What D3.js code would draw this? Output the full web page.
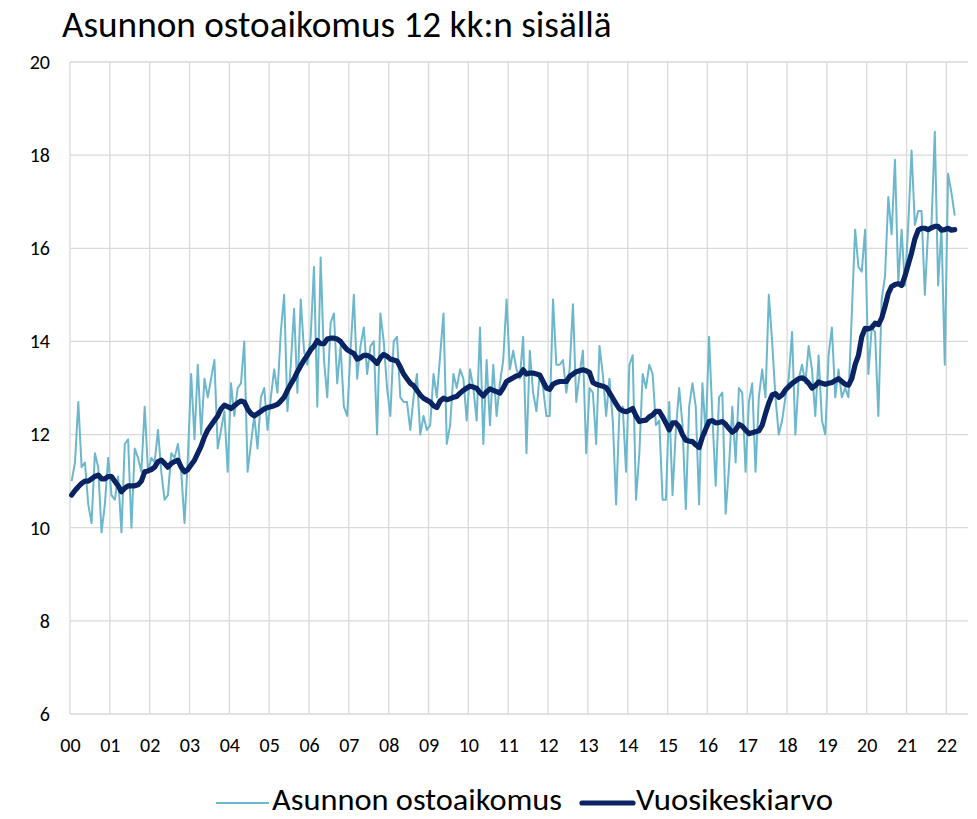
<!DOCTYPE html>
<html>
<head>
<meta charset="utf-8">
<script src="https://cdn.jsdelivr.net/npm/d3@7"></script>
<style>
  html, body { margin: 0; padding: 0; background: #ffffff; }
  svg { display: block; }
  text { font-family: "Carlito", "Lato", "Open Sans", sans-serif; fill: #000; }
</style>
</head>
<body>
<svg id="chart" width="977" height="819"></svg>
<script>
// ---- Data (monthly, Jan 2000 – Mar 2022) ----
const yearLabels = ["00","01","02","03","04","05","06","07","08","09","10","11","12","13","14","15","16","17","18","19","20","21","22"];
const yTicks = [6, 8, 10, 12, 14, 16, 18, 20];

const ostoaikomus = [
  // 2000
  11.0, 11.4, 12.7, 11.3, 11.4, 10.5, 10.1, 11.6, 11.3, 9.9, 10.5, 11.5,
  // 2001
  10.7, 10.6, 11.1, 9.9, 11.8, 11.9, 10.0, 11.7, 11.5, 11.2, 12.6, 11.2,
  // 2002
  11.5, 11.4, 12.1, 11.2, 10.6, 10.7, 11.6, 11.5, 11.8, 11.2, 10.1, 11.5,
  // 2003
  13.3, 11.9, 13.5, 12.0, 13.2, 12.8, 13.2, 13.6, 11.7, 12.1, 12.5, 11.2,
  // 2004
  13.1, 12.4, 13.0, 13.1, 14.0, 11.2, 11.8, 12.4, 11.7, 12.8, 13.0, 12.1,
  // 2005
  12.8, 13.4, 12.9, 14.2, 15.0, 12.5, 13.5, 14.7, 12.9, 14.9, 13.8, 13.5,
  // 2006
  14.1, 15.6, 12.6, 15.8, 13.6, 12.8, 14.4, 14.6, 13.1, 13.9, 12.6, 12.4,
  // 2007
  13.8, 15.0, 13.2, 13.9, 14.3, 13.3, 13.9, 14.0, 12.0, 14.6, 14.0, 13.0,
  // 2008
  12.4, 14.0, 14.1, 12.8, 12.7, 12.7, 12.1, 12.8, 13.3, 12.0, 12.4, 12.1,
  // 2009
  12.2, 13.3, 12.8, 13.7, 14.6, 11.8, 12.2, 13.3, 13.0, 13.4, 13.2, 12.3,
  // 2010
  13.4, 13.0, 12.3, 14.3, 11.8, 13.6, 12.2, 13.5, 12.4, 13.1, 13.6, 14.9,
  // 2011
  13.4, 13.8, 13.4, 13.2, 14.1, 11.6, 13.8, 12.9, 12.5, 13.3, 13.0, 12.4,
  // 2012
  12.4, 14.9, 13.5, 13.5, 13.6, 12.9, 13.4, 14.8, 12.7, 13.3, 13.8, 11.6,
  // 2013
  13.0, 12.9, 11.8, 13.9, 13.3, 12.4, 13.2, 12.3, 10.5, 12.5, 12.6, 11.2,
  // 2014
  13.5, 13.7, 10.6, 11.6, 13.3, 13.0, 13.5, 13.3, 12.2, 12.3, 10.6, 10.6,
  // 2015
  12.7, 10.7, 12.1, 13.0, 12.2, 10.4, 12.6, 13.1, 12.6, 10.5, 13.1, 12.0,
  // 2016
  14.1, 12.4, 10.9, 12.8, 12.9, 10.3, 11.3, 12.6, 11.4, 13.0, 12.9, 11.2,
  // 2017
  12.7, 13.1, 11.2, 12.8, 13.4, 12.8, 15.0, 14.0, 12.8, 12.0, 12.3, 12.8,
  // 2018
  13.2, 14.2, 12.0, 13.2, 13.5, 13.1, 13.9, 13.4, 12.4, 13.7, 12.3, 12.0,
  // 2019
  13.7, 14.3, 12.8, 13.4, 12.8, 13.0, 12.8, 14.6, 16.4, 15.6, 15.5, 16.4,
  // 2020
  13.3, 14.3, 14.2, 12.4, 14.9, 15.4, 17.1, 16.3, 17.9, 15.25, 16.4, 15.2,
  // 2021
  16.5, 18.1, 16.5, 16.8, 16.8, 15.0, 16.4, 16.5, 18.5, 15.2, 16.45, 13.5,
  // 2022
  17.6, 17.2, 16.7
];

const vuosikeskiarvo = [
  // 2000
  10.70, 10.80, 10.88, 10.95, 11.00, 11.00, 11.05, 11.10, 11.13, 11.05, 11.05, 11.10,
  // 2001
  11.10, 11.00, 10.90, 10.77, 10.85, 10.90, 10.90, 10.90, 10.92, 11.00, 11.20, 11.22,
  // 2002
  11.25, 11.30, 11.42, 11.45, 11.38, 11.30, 11.38, 11.42, 11.45, 11.30, 11.20, 11.25,
  // 2003
  11.35, 11.45, 11.60, 11.75, 11.95, 12.10, 12.20, 12.30, 12.40, 12.55, 12.63, 12.60,
  // 2004
  12.56, 12.62, 12.68, 12.72, 12.70, 12.55, 12.45, 12.40, 12.45, 12.50, 12.55, 12.58,
  // 2005
  12.60, 12.62, 12.65, 12.72, 12.80, 12.95, 13.08, 13.20, 13.35, 13.48, 13.60, 13.70,
  // 2006
  13.82, 13.90, 14.02, 13.95, 13.95, 14.05, 14.07, 14.07, 14.05, 14.00, 13.90, 13.82,
  // 2007
  13.78, 13.74, 13.62, 13.65, 13.70, 13.70, 13.67, 13.60, 13.53, 13.65, 13.72, 13.68,
  // 2008
  13.62, 13.60, 13.58, 13.45, 13.30, 13.20, 13.10, 13.05, 12.95, 12.85, 12.78, 12.74,
  // 2009
  12.70, 12.62, 12.58, 12.72, 12.78, 12.75, 12.77, 12.80, 12.82, 12.89, 12.95, 13.00,
  // 2010
  13.04, 13.02, 12.99, 12.90, 12.83, 12.92, 12.98, 12.95, 12.92, 12.89, 13.00, 13.14,
  // 2011
  13.18, 13.22, 13.26, 13.28, 13.39, 13.30, 13.32, 13.32, 13.30, 13.28, 13.14, 13.00,
  // 2012
  12.97, 13.08, 13.12, 13.14, 13.14, 13.14, 13.25, 13.30, 13.35, 13.37, 13.39, 13.37,
  // 2013
  13.33, 13.12, 13.08, 13.06, 13.04, 13.01, 12.90, 12.78, 12.66, 12.55, 12.51, 12.49,
  // 2014
  12.52, 12.56, 12.40, 12.28, 12.30, 12.31, 12.38, 12.42, 12.50, 12.50, 12.38, 12.25,
  // 2015
  12.10, 12.25, 12.25, 12.17, 12.00, 11.88, 11.86, 11.85, 11.78, 11.72, 11.95, 12.12,
  // 2016
  12.28, 12.30, 12.25, 12.26, 12.28, 12.22, 12.13, 12.05, 12.10, 12.22, 12.18, 12.10,
  // 2017
  12.02, 12.04, 12.06, 12.08, 12.20, 12.45, 12.68, 12.85, 12.88, 12.80, 12.85, 12.96,
  // 2018
  13.03, 13.10, 13.15, 13.20, 13.22, 13.18, 13.10, 13.00, 13.05, 13.13, 13.10, 13.08,
  // 2019
  13.10, 13.12, 13.16, 13.20, 13.14, 13.08, 13.06, 13.20, 13.50, 13.70, 14.10, 14.28,
  // 2020
  14.27, 14.30, 14.39, 14.36, 14.50, 14.75, 15.03, 15.18, 15.22, 15.24, 15.20, 15.40,
  // 2021
  15.65, 15.90, 16.20, 16.39, 16.43, 16.43, 16.40, 16.44, 16.47, 16.47, 16.39, 16.40,
  // 2022
  16.43, 16.39, 16.40
];

const seriesNames = ["Asunnon ostoaikomus", "Vuosikeskiarvo"];
const titleText = "Asunnon ostoaikomus 12 kk:n sisällä";

// ---- Layout ----
const svg = d3.select("#chart");
const plot = { left: 70, right: 968, top: 62, bottom: 714 };
const monthsSpan = 270.5;

const x = d3.scaleLinear().domain([0, monthsSpan]).range([plot.left, plot.right]);
const y = d3.scaleLinear().domain([6, 20]).range([plot.bottom, plot.top]);

const gridColor = "#d9d9d9";
const lightColor = "#6cb7cc";
const darkColor = "#0a2463";
const fontStack = "Carlito, Lato, sans-serif";

// Horizontal gridlines
svg.append("g").selectAll("line").data(yTicks).join("line")
  .attr("x1", plot.left).attr("x2", plot.right)
  .attr("y1", d => y(d)).attr("y2", d => y(d))
  .attr("stroke", gridColor).attr("stroke-width", 1.3);

// Vertical gridlines at each year
const yearIdx = yearLabels.map((d, i) => i * 12);
svg.append("g").selectAll("line").data(yearIdx).join("line")
  .attr("x1", d => x(d)).attr("x2", d => x(d))
  .attr("y1", plot.top).attr("y2", plot.bottom)
  .attr("stroke", gridColor).attr("stroke-width", 1.3);

// Y axis labels
const yAxis = d3.axisLeft(y).tickValues(yTicks).tickSize(0).tickPadding(20);
const gy = svg.append("g").attr("transform", `translate(${plot.left},0)`).call(yAxis);
gy.select(".domain").remove();
gy.selectAll("text").attr("font-size", 20).attr("font-family", fontStack).attr("fill", "#000");

// X axis labels
const xAxis = d3.axisBottom(x).tickValues(yearIdx).tickFormat((d, i) => yearLabels[i]).tickSize(0).tickPadding(24);
const gx = svg.append("g").attr("transform", `translate(0,${plot.bottom})`).call(xAxis);
gx.select(".domain").remove();
gx.selectAll("text").attr("font-size", 20).attr("font-family", fontStack).attr("fill", "#000");

// Lines
const lineGen = d3.line().x((d, i) => x(i + 0.5)).y(d => y(d));
svg.append("path").datum(ostoaikomus)
  .attr("fill", "none").attr("stroke", lightColor).attr("stroke-width", 2)
  .attr("stroke-linejoin", "round").attr("d", lineGen);
svg.append("path").datum(vuosikeskiarvo)
  .attr("fill", "none").attr("stroke", darkColor).attr("stroke-width", 5.2)
  .attr("stroke-linejoin", "round").attr("stroke-linecap", "round").attr("d", lineGen);

// Title
svg.append("text").attr("x", 62).attr("y", 37).attr("font-size", 37.2).text(titleText);

// Legend
const legend = svg.append("g");
legend.append("line").attr("x1", 216).attr("x2", 269).attr("y1", 803).attr("y2", 803)
  .attr("stroke", lightColor).attr("stroke-width", 2);
legend.append("text").attr("x", 272).attr("y", 810).attr("font-size", 31)
  .attr("textLength", 290).attr("lengthAdjust", "spacingAndGlyphs").text(seriesNames[0]);
legend.append("line").attr("x1", 582).attr("x2", 633).attr("y1", 803).attr("y2", 803)
  .attr("stroke", darkColor).attr("stroke-width", 5.2).attr("stroke-linecap", "round");
legend.append("text").attr("x", 636).attr("y", 810).attr("font-size", 31)
  .attr("textLength", 197).attr("lengthAdjust", "spacingAndGlyphs").text(seriesNames[1]);
</script>
</body>
</html>
